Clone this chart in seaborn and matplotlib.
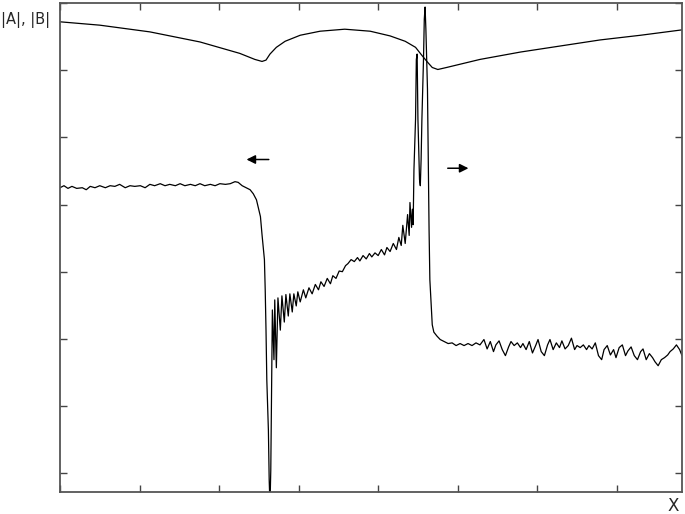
import matplotlib
matplotlib.use("Agg")
import matplotlib.pyplot as plt
import seaborn as sns
import pandas as pd

# |A| : noisy trace (left arrow)
a_x = [0.00, 0.05, 0.10, 0.15, 0.21, 0.28, 0.33, 0.38, 0.44, 0.50, 0.57, 0.63, 0.69, 0.75, 0.82,
       0.88, 0.94, 1.01, 1.07, 1.13, 1.19, 1.26, 1.32, 1.38, 1.45, 1.51, 1.57, 1.64, 1.70, 1.76,
       1.82, 1.89, 1.95, 2.01, 2.08, 2.14, 2.20, 2.24,
       2.29, 2.34, 2.39, 2.43, 2.47, 2.49, 2.52, 2.54, 2.57, 2.58, 2.59, 2.60, 2.62, 2.63, 2.64,
       2.65, 2.67, 2.69, 2.70, 2.72, 2.74, 2.77, 2.79, 2.82, 2.84, 2.87, 2.89, 2.92, 2.94, 2.97,
       2.99, 3.02, 3.06, 3.09, 3.13, 3.17, 3.21, 3.25, 3.28, 3.32, 3.36, 3.40, 3.43, 3.47, 3.51,
       3.55, 3.59, 3.62, 3.66, 3.70, 3.74, 3.77, 3.81, 3.85, 3.89, 3.92, 3.96, 4.00, 4.04, 4.08,
       4.11, 4.15, 4.19, 4.23, 4.26, 4.29, 4.31, 4.34, 4.37, 4.39, 4.40, 4.42, 4.43, 4.44, 4.45,
       4.47, 4.48, 4.49, 4.50, 4.52, 4.53, 4.54, 4.55, 4.57, 4.58, 4.59, 4.60, 4.62, 4.63, 4.64,
       4.65, 4.67, 4.68, 4.70, 4.74, 4.78, 4.83,
       4.88, 4.93, 4.98, 5.03, 5.08, 5.13, 5.18, 5.23, 5.28, 5.33, 5.37, 5.41, 5.45, 5.48, 5.52,
       5.56, 5.60, 5.64, 5.67, 5.71, 5.75, 5.79, 5.82, 5.86, 5.90, 5.94, 5.98, 6.01, 6.05, 6.09,
       6.13, 6.16, 6.20, 6.24, 6.28, 6.31, 6.35, 6.39, 6.43, 6.47, 6.50, 6.54, 6.58, 6.62, 6.65,
       6.69, 6.73, 6.77, 6.81, 6.84, 6.88, 6.92, 6.96, 6.99, 7.03, 7.07, 7.11, 7.14, 7.18, 7.22,
       7.26, 7.30, 7.33, 7.37, 7.41, 7.45, 7.48, 7.52, 7.56, 7.60, 7.64, 7.67, 7.71, 7.75, 7.79,
       7.82]
a_y = [4.25, 4.28, 4.24, 4.27, 4.24, 4.25, 4.22, 4.27, 4.25, 4.28, 4.25, 4.28, 4.27, 4.30, 4.25,
       4.28, 4.27, 4.28, 4.25, 4.30, 4.28, 4.31, 4.28, 4.30, 4.28, 4.31, 4.28, 4.30, 4.28, 4.31,
       4.28, 4.30, 4.28, 4.31, 4.30, 4.31, 4.34, 4.33,
       4.28, 4.25, 4.22, 4.16, 4.07, 3.97, 3.82, 3.55, 3.18, 2.73, 2.13, 1.39, 0.64, -0.10, -0.48,
       0.04, 2.43, 1.69, 2.58, 1.57, 2.61, 2.13, 2.64, 2.25, 2.66, 2.34, 2.67, 2.40, 2.67, 2.49,
       2.70, 2.55, 2.73, 2.61, 2.76, 2.67, 2.81, 2.73, 2.85, 2.78, 2.90, 2.82, 2.94, 2.90, 3.01,
       3.00, 3.09, 3.12, 3.18, 3.15, 3.21, 3.16, 3.24, 3.19, 3.27, 3.22, 3.28, 3.24, 3.33, 3.25,
       3.36, 3.30, 3.42, 3.33, 3.51, 3.39, 3.69, 3.42, 3.85, 3.54, 4.03, 3.66, 3.93, 3.70, 4.52,
       5.27, 6.16, 6.24, 5.27, 4.37, 4.28, 4.67, 5.27, 6.16, 6.76, 6.94, 6.61, 5.72, 4.67, 3.63,
       2.88, 2.43, 2.21, 2.10, 2.04, 1.99, 1.96,
       1.93, 1.94, 1.90, 1.93, 1.90, 1.93, 1.90, 1.94, 1.91, 1.99, 1.85, 1.96, 1.81, 1.91, 1.97,
       1.84, 1.75, 1.88, 1.96, 1.90, 1.94, 1.87, 1.93, 1.84, 1.96, 1.79, 1.90, 1.99, 1.81, 1.75,
       1.91, 1.99, 1.84, 1.94, 1.87, 1.97, 1.85, 1.90, 2.01, 1.84, 1.90, 1.87, 1.91, 1.84, 1.90,
       1.85, 1.94, 1.75, 1.69, 1.84, 1.90, 1.76, 1.84, 1.72, 1.87, 1.91, 1.75, 1.82, 1.88, 1.75,
       1.69, 1.81, 1.85, 1.69, 1.78, 1.72, 1.66, 1.60, 1.69, 1.72, 1.76, 1.81, 1.85, 1.91, 1.84,
       1.75]

# |B| : smooth trace (right arrow)
b_x = [0.00, 0.50, 1.13, 1.76, 2.26, 2.45, 2.54, 2.59, 2.64, 2.72, 2.83, 3.02, 3.27, 3.58,
       3.90, 4.15, 4.34, 4.47, 4.55, 4.62, 4.68, 4.75, 4.86, 5.28, 5.79, 6.29, 6.79, 7.30, 7.82]
b_y = [6.72, 6.67, 6.57, 6.42, 6.25, 6.16, 6.13, 6.15, 6.24, 6.34, 6.43, 6.52, 6.58, 6.61,
       6.58, 6.51, 6.43, 6.34, 6.22, 6.12, 6.04, 6.01, 6.04, 6.16, 6.27, 6.36, 6.45, 6.52, 6.60]

x_ticks = [0, 1, 2, 3, 4, 5, 6, 7]
y_ticks = [0, 1, 2, 3, 4, 5, 6, 7]

sns.set_style("ticks")
plt.rcParams["font.family"] = ["DejaVu Sans"]

fig = plt.figure(figsize=(6.85, 5.14), dpi=100)
ax = fig.add_axes([60 / 685, 22 / 514, 622 / 685, 489 / 514])

df_a = pd.DataFrame({"x": a_x, "y": a_y})
df_b = pd.DataFrame({"x": b_x, "y": b_y})
sns.lineplot(data=df_a, x="x", y="y", ax=ax, color="black", lw=0.9, estimator=None, sort=False)
sns.lineplot(data=df_b, x="x", y="y", ax=ax, color="black", lw=0.9, estimator=None, sort=False)

ax.set_xlim(0, 7.82)
ax.set_ylim(-0.28, 7.0)
ax.set_xticks(x_ticks)
ax.set_yticks(y_ticks)
ax.tick_params(direction="in", length=5, width=1, color="#444444",
               top=True, right=True, labelbottom=False, labelleft=False)
ax.set_xlabel("")
ax.set_ylabel("")
for sp in ax.spines.values():
    sp.set_visible(True)
    sp.set_color("#555555")
    sp.set_linewidth(1.3)

# direction arrows
ax.annotate("", xy=(2.31, 4.67), xytext=(2.66, 4.67),
            arrowprops=dict(arrowstyle="-|>", color="black", lw=1.1, mutation_scale=13))
ax.annotate("", xy=(5.17, 4.54), xytext=(4.84, 4.54),
            arrowprops=dict(arrowstyle="-|>", color="black", lw=1.1, mutation_scale=13))

fig.text(1 / 685, 1 - 20 / 514, "|A|, |B|", fontsize=10.5, va="center", ha="left")
fig.text(673 / 685, 1 - 506 / 514, "X", fontsize=12, va="center", ha="center")

fig.savefig("out.png", dpi=100)
